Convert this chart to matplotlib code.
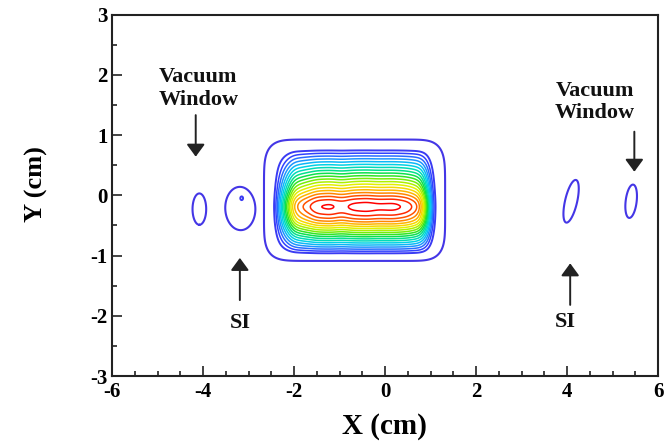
import numpy as np
import matplotlib
matplotlib.use("Agg")
import matplotlib.pyplot as plt
from matplotlib.colors import LinearSegmentedColormap

plt.rcParams['font.family'] = ['Liberation Serif', 'DejaVu Serif']
plt.rcParams['font.weight'] = 'bold'
plt.rcParams['axes.unicode_minus'] = False

# Core beam intensity profile along X (relative)
profile_x_pos = [-2.47, -2.40, -2.00, -1.87, -1.71, -1.50, -1.20, -0.95, -0.70, -0.40,
                 -0.15, 0.20, 0.48, 0.66, 0.77, 0.90, 1.03, 1.08, 1.12]
profile_x_val = [0.0, 0.143, 0.80, 0.857, 0.905, 0.97, 0.985, 0.955, 0.99, 1.0,
                 0.985, 0.99, 0.96, 0.905, 0.857, 0.60, 0.20, 0.143, 0.0]

# Core beam intensity profile along Y (relative)
profile_y_pos = [-1.00, -0.97, -0.93, -0.45, -0.41, -0.35, -0.28, -0.19,
                 -0.10, -0.05, 0.0, 0.70, 0.75, 0.80]
profile_y_val = [0.0, 0.10, 0.143, 0.81, 0.857, 0.905, 0.952, 1.0,
                 0.952, 0.905, 0.857, 0.143, 0.10, 0.0]

# Low-level halo around the core (fraction of halo height) along X and Y
halo_x_pos = [-2.85, -2.66, -2.45, -2.10, 0.85, 1.12, 1.32, 1.50]
halo_x_val = [0.0, 0.436, 0.864, 1.0, 1.0, 0.864, 0.436, 0.0]
halo_y_pos = [-1.18, -1.07, -0.99, -0.75, 0.50, 0.78, 0.917, 1.05]
halo_y_val = [0.0, 0.436, 0.864, 1.0, 1.0, 0.864, 0.436, 0.0]
halo_height = 0.11

# Faint isolated spots: centre, half-size of the outer contour, tilt (deg), peak
spot_x = [-4.08, -3.18, -3.15, 4.09, 5.41]
spot_y = [-0.23, -0.22, -0.05, -0.10, -0.10]
spot_wx = [0.15, 0.33, 0.12, 0.13, 0.12]
spot_wy = [0.26, 0.36, 0.12, 0.37, 0.28]
spot_tilt = [0, 10, 0, -18, -10]
spot_amp = [0.07, 0.07, 0.10, 0.07, 0.07]

# Annotations: text, text position, arrow tail (x, y), arrow tip (x, y)
note_text = ["Vacuum\nWindow", "SI", "Vacuum\nWindow", "SI"]
note_xy = [(-4.10, 1.77), (-3.19, -2.12), (4.62, 1.55), (3.97, -2.10)]
arrow_tail = [(-4.16, 1.33), (-3.19, -1.74), (5.48, 1.055), (4.07, -1.82)]
arrow_tip = [(-4.16, 0.64), (-3.19, -1.04), (5.48, 0.39), (4.07, -1.13)]

x_ticks = [-6, -4, -2, 0, 2, 4, 6]
y_ticks = [-3, -2, -1, 0, 1, 2, 3]
n_levels = 20


def smooth(a, axis, sigma_pts):
    k = np.arange(-3 * sigma_pts, 3 * sigma_pts + 1)
    w = np.exp(-0.5 * (k / sigma_pts) ** 2)
    w /= w.sum()
    return np.apply_along_axis(lambda v: np.convolve(v, w, mode='same'), axis, a)


xs = np.linspace(-6, 6, 1201)
ys = np.linspace(-3, 3, 601)
X, Y = np.meshgrid(xs, ys)
levels = np.arange(1, n_levels + 1) / (n_levels + 1)

# beam core: separable product of the two profiles
fx = np.interp(xs, profile_x_pos, profile_x_val)
fy = np.interp(ys, profile_y_pos, profile_y_val)
core = np.outer(fy, fx)
core = smooth(smooth(core, 1, 7), 0, 5)

# halo: rounded rectangle built from the two edge ramps
hx = np.interp(xs, halo_x_pos, halo_x_val)
hy = np.interp(ys, halo_y_pos, halo_y_val)
HX, HY = np.meshgrid(hx, hy)
deficit = np.sqrt((1 - HX) ** 2 + (1 - HY) ** 2)
halo = halo_height * np.clip(1 - deficit, 0, None)
halo = smooth(smooth(halo, 1, 20), 0, 20)

Z = np.maximum(core, halo)
Z = smooth(smooth(Z, 1, 2), 0, 2)

for cx, cy, wx, wy, t, a in zip(spot_x, spot_y, spot_wx, spot_wy, spot_tilt, spot_amp):
    th = np.deg2rad(t)
    dx, dy = X - cx, Y - cy
    u = dx * np.cos(th) + dy * np.sin(th)
    v = -dx * np.sin(th) + dy * np.cos(th)
    r1 = np.sqrt(2 * np.log(a / levels[0]))
    sx, sy = wx / r1, wy / r1
    Z = np.maximum(Z, a * np.exp(-0.5 * ((u / sx) ** 2 + (v / sy) ** 2)))

cmap = LinearSegmentedColormap.from_list(
    "palette", ['#4436e6', '#3040ff', '#2090ff', '#00d0f0', '#00e0a0', '#10e030',
                '#90f000', '#f0f000', '#ffb000', '#ff5000', '#ff0000'])
line_widths = [1.5, 1.4] + [1.1] * (n_levels - 2)

fig = plt.figure(figsize=(6.69, 4.43), dpi=100)
ax = fig.add_axes([112 / 669, 67 / 443, 546 / 669, 361.5 / 443])
ax.contour(X, Y, Z, levels=levels, cmap=cmap, linewidths=line_widths)

ax.set_xlim(-6, 6)
ax.set_ylim(-3, 3)
ax.set_xticks(x_ticks)
ax.set_yticks(y_ticks)
ax.set_xticks(np.arange(-6, 6.01, 0.5), minor=True)
ax.set_yticks(np.arange(-3, 3.01, 0.5), minor=True)
ax.tick_params(which='both', direction='in', top=False, right=False,
               labelsize=15, width=1.2, color='#222222')
ax.tick_params(which='major', length=7.5)
ax.tick_params(which='minor', length=3.8)
ax.tick_params(axis='x', pad=4)
ax.tick_params(axis='y', pad=3)
for lab in ax.get_xticklabels() + ax.get_yticklabels():
    lab.set_fontweight('bold')
for s in ax.spines.values():
    s.set_linewidth(1.5)
    s.set_color('#222222')

for txt, (tx, ty), tail, tip in zip(note_text, note_xy, arrow_tail, arrow_tip):
    ax.text(tx, ty, txt, ha='center', va='center', fontsize=16,
            fontweight='bold', color='#111111', linespacing=1.15)
    ax.annotate('', xy=tip, xytext=tail,
                arrowprops=dict(arrowstyle='-|>,head_length=0.75,head_width=0.55',
                                color='#222222', lw=1.4, shrinkA=0, shrinkB=0))

fig.text(384 / 669, 1 - 427 / 443, 'X (cm)', ha='center', va='center',
         fontsize=21, fontweight='bold')
fig.text(36 / 669, 1 - 184 / 443, 'Y (cm)', ha='center', va='center',
         fontsize=19, fontweight='bold', rotation=90)

fig.savefig('out.png', dpi=100)
